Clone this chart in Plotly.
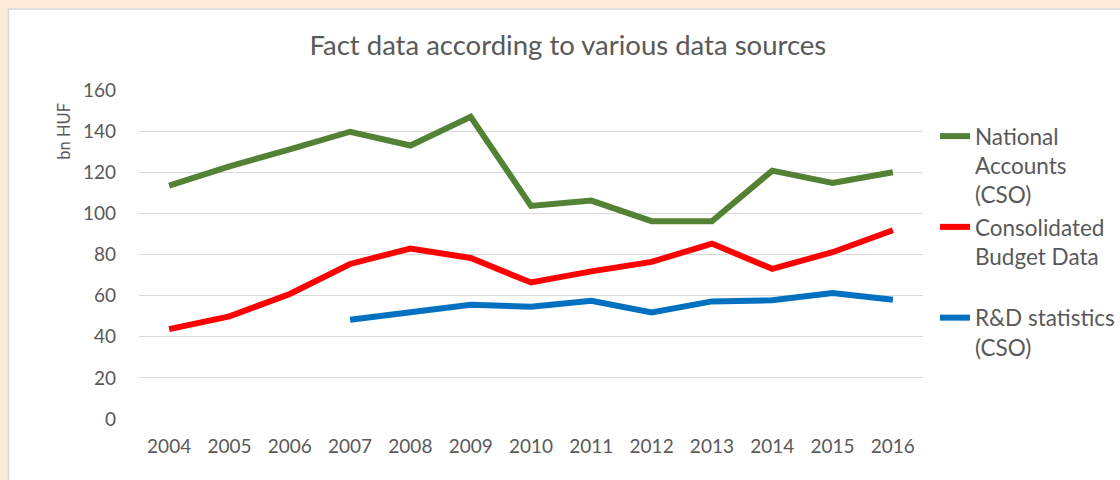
import plotly.graph_objects as go

years = [str(y) for y in range(2004, 2017)]
national_accounts = [113.5, 122.9, 131.1, 139.7, 133.0, 147.0, 103.6, 106.2, 96.2, 96.2, 120.8, 114.8, 120.0]
consolidated_budget = [43.7, 49.9, 60.8, 75.4, 82.9, 78.3, 66.4, 71.8, 76.4, 85.3, 73.0, 81.1, 91.8]
rd_statistics = [None, None, None, 48.3, 52.2, 55.6, 54.6, 57.5, 51.8, 57.2, 57.7, 61.3, 58.0]

FONT = "Lato"
GRAY = "#595959"

fig = go.Figure()
fig.add_trace(go.Scatter(x=years, y=national_accounts, mode="lines",
                         name="National<br>Accounts<br>(CSO)",
                         line=dict(color="#548235", width=6)))
fig.add_trace(go.Scatter(x=years, y=consolidated_budget, mode="lines",
                         name="Consolidated<br>Budget Data<br> ",
                         line=dict(color="#FF0000", width=6)))
fig.add_trace(go.Scatter(x=years, y=rd_statistics, mode="lines",
                         name="R&D statistics<br>(CSO)",
                         line=dict(color="#0070C0", width=6)))

fig.update_layout(
    width=1120, height=480,
    margin=dict(l=139, r=194, t=90, b=61),
    paper_bgcolor="#FDEBD9",
    plot_bgcolor="rgba(0,0,0,0)",
    font=dict(family=FONT, color=GRAY),
    title=dict(text="Fact data according to various data sources",
               x=0.507, xref="container", xanchor="center",
               y=0.905, yref="container", yanchor="middle",
               font=dict(family=FONT, size=27.5, color=GRAY)),
    xaxis=dict(type="category", range=[-0.5, 12.5], showgrid=False, showline=False,
               zeroline=False, ticks="", tickfont=dict(size=19, color=GRAY),
               ticklabelstandoff=14),
    yaxis=dict(range=[0, 160], tickvals=[0, 20, 40, 60, 80, 100, 120, 140, 160],
               showgrid=True, gridcolor="#D9D9D9", gridwidth=1, zeroline=False,
               showline=False, ticks="", tickfont=dict(size=19, color=GRAY),
               ticklabelstandoff=22),
    legend=dict(xref="container", yref="container",
                x=935 / 1120, y=1 - 115 / 480, xanchor="left", yanchor="top",
                font=dict(family=FONT, size=22.5, color=GRAY),
                valign="top", bgcolor="rgba(0,0,0,0)", tracegroupgap=0,
                maxheight=460),
    showlegend=True,
    shapes=[dict(type="rect", xref="paper", yref="paper",
                 x0=-0.1665, x1=1.26, y0=-0.21, y1=1.246,
                 fillcolor="white", line=dict(color="#D9D9D9", width=1.5),
                 layer="below")],
    annotations=[dict(text="bn HUF", xref="paper", yref="paper",
                      x=-0.095, y=0.875, textangle=-90, showarrow=False,
                      xanchor="center", yanchor="middle",
                      font=dict(family=FONT, size=16.5, color=GRAY))],
)

fig.write_html("out.html", config={"displayModeBar": False},
               post_script="document.body.style.margin='0';")
